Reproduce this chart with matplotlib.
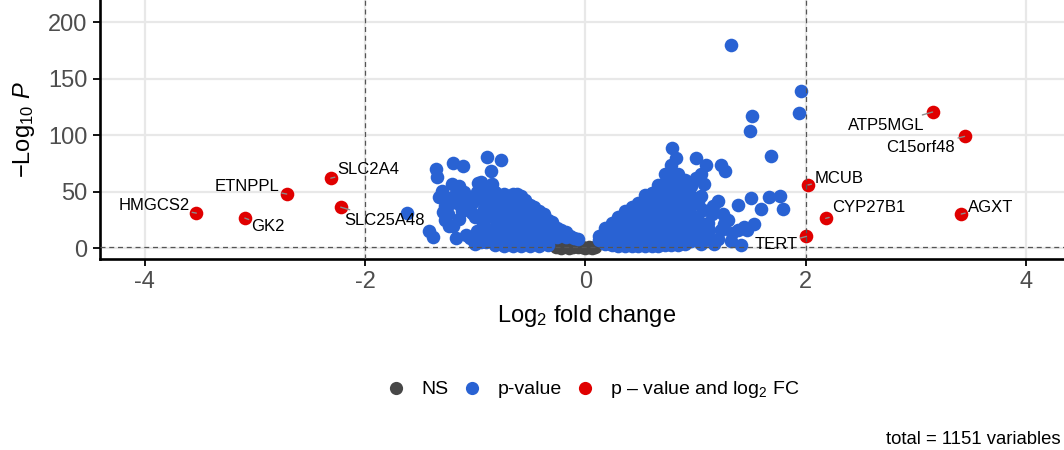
import matplotlib
matplotlib.use('Agg')
import matplotlib.pyplot as plt
from matplotlib.lines import Line2D

plt.rcParams['font.family'] = ['Liberation Sans', 'DejaVu Sans']
plt.rcParams['mathtext.fontset'] = 'custom'
plt.rcParams['mathtext.rm'] = 'Liberation Sans'
plt.rcParams['mathtext.it'] = 'Liberation Sans:italic'
plt.rcParams['mathtext.bf'] = 'Liberation Sans:bold'

# ---------------- data ----------------
# not significant (grey)
ns_lfc = [-0.27, -0.22, -0.15, -0.11, -0.07, -0.03, 0.00, 0.03, 0.06, 0.09]
ns_logp = [0.8, 0.5, 0.3, 0.9, 0.6, 0.7, 0.4, 1.0, 0.5, 0.9]

# p-value only (blue)
blue_lfc = [
    # left scattered
    -1.62, -1.42, -1.38, -1.36, -1.35, -1.30, -1.29, -1.27, -1.27, -1.21, -1.20,
    -1.17, -1.15, -1.14, -1.11, -1.05, -1.02, -1.03, -0.97, -0.95, -0.93, -0.89,
    -0.86, -0.85, -0.86, -0.77, -0.77, -1.08, -1.20, -1.10, -0.98, -0.92, -1.25,
    -1.25, -1.22, -1.18, -1.12, -1.06, -1.00, -0.96, -0.90, -0.93, -1.15, -1.33,
    -1.24, -0.98, -0.92, -1.08, -1.00, -0.95,
    # left dense
    -0.90, -0.90, -0.90, -0.90,
    -0.82, -0.82, -0.82, -0.82, -0.82, -0.82, -0.82,
    -0.74, -0.74, -0.74, -0.74, -0.74, -0.74, -0.74,
    -0.66, -0.66, -0.66, -0.66, -0.66, -0.66, -0.66,
    -0.58, -0.58, -0.58, -0.58, -0.58, -0.58, -0.58,
    -0.50, -0.50, -0.50, -0.50, -0.50, -0.50,
    -0.42, -0.42, -0.42, -0.42, -0.42, -0.42,
    -0.34, -0.34, -0.34, -0.34, -0.34,
    -0.26, -0.26, -0.26,
    -0.18, -0.18,
    -0.10,
    -0.62, -0.55, -0.47, -0.38, -0.30, -0.22, -0.14, -0.07,
    # right dense
    0.12, 0.12,
    0.18, 0.18, 0.18, 0.18,
    0.24, 0.24, 0.24, 0.24,
    0.30, 0.30, 0.30, 0.30, 0.30,
    0.36, 0.36, 0.36, 0.36, 0.36, 0.36,
    0.42, 0.42, 0.42, 0.42, 0.42, 0.42,
    0.48, 0.48, 0.48, 0.48, 0.48, 0.48,
    0.54, 0.54, 0.54, 0.54, 0.54, 0.54, 0.54,
    0.60, 0.60, 0.60, 0.60, 0.60, 0.60, 0.60,
    0.66, 0.66, 0.66, 0.66, 0.66, 0.66, 0.66, 0.66,
    0.72, 0.72, 0.72, 0.72, 0.72, 0.72, 0.72, 0.72, 0.72,
    0.78, 0.78, 0.78, 0.78, 0.78, 0.78, 0.78, 0.78, 0.78, 0.78,
    0.84, 0.84, 0.84, 0.84, 0.84, 0.84, 0.84, 0.84, 0.84,
    0.90, 0.90, 0.90, 0.90, 0.90, 0.90, 0.90, 0.90,
    0.96, 0.96, 0.96, 0.96, 0.96, 0.96, 0.96,
    1.02, 1.02, 1.02, 1.02,
    # right scattered
    0.79, 0.82, 1.00, 1.09, 1.23, 1.27, 1.05, 1.08, 1.68, 1.49, 1.51, 1.325,
    1.96, 1.94, 1.20, 1.38, 1.50, 1.59, 1.67, 1.77, 1.79, 1.53, 1.41, 1.17,
    1.29, 1.11, 1.38, 1.47, 1.23, 1.33, 1.44, 1.05, 1.10, 1.15, 1.07, 1.00,
    1.05, 1.12, 1.20, 1.26, 1.32, 1.16, 1.25,
]
blue_logp = [
    31, 15, 10, 70, 63, 51, 32, 37, 25, 57, 75,
    9, 26, 38, 73, 9, 41, 31, 58, 59, 22, 81,
    68, 57, 43, 78, 16, 45, 20, 50, 50, 35, 44,
    30, 40, 47, 33, 36, 28, 44, 38, 52, 55, 45,
    20, 15, 20, 12, 4, 5,
    5, 12, 28, 47,
    3, 10, 18, 26, 34, 42, 50,
    2, 9, 17, 25, 33, 41, 48,
    2, 8, 16, 24, 32, 40, 48,
    2, 8, 15, 23, 31, 39, 46,
    2, 7, 14, 21, 29, 38,
    2, 7, 13, 20, 27, 33,
    3, 7, 12, 19, 25,
    10, 14, 18,
    10, 14,
    9,
    48, 43, 36, 30, 23, 16, 11, 8,
    7, 11,
    4, 7, 13, 18,
    3, 8, 15, 22,
    2, 8, 15, 22, 28,
    2, 8, 15, 22, 29, 33,
    2, 9, 16, 24, 32, 36,
    2, 9, 17, 25, 33, 40,
    2, 9, 17, 25, 33, 41, 47,
    2, 9, 17, 25, 33, 41, 49,
    2, 9, 17, 25, 33, 41, 49, 56,
    3, 10, 18, 26, 34, 42, 50, 58, 66,
    3, 10, 18, 26, 34, 42, 50, 58, 66, 74,
    3, 11, 19, 27, 35, 43, 51, 59, 66,
    4, 12, 20, 28, 36, 44, 52, 60,
    6, 14, 22, 30, 38, 46, 55,
    9, 17, 25, 40,
    89, 80, 80, 74, 74, 68, 66, 57, 82, 104, 117, 180,
    139, 120, 42, 38, 44, 35, 45, 46, 35, 21, 3, 4,
    25, 22, 16, 16, 16, 13, 19, 46, 10, 30, 34, 62,
    4, 16, 8, 21, 6, 37, 30,
]

# p-value and log2 FC (red), with labels
red_genes = ['HMGCS2', 'GK2', 'ETNPPL', 'SLC2A4', 'SLC25A48',
             'ATP5MGL', 'C15orf48', 'MCUB', 'CYP27B1', 'AGXT', 'TERT']
red_lfc = [-3.53, -3.09, -2.71, -2.31, -2.22, 3.15, 3.44, 2.02, 2.18, 3.41, 2.006]
red_logp = [31, 26.6, 47.9, 62, 36.3, 120.6, 99, 56, 26.4, 30.2, 10.4]

x_ticks = [-4, -2, 0, 2, 4]
y_ticks = [0, 50, 100, 150, 200]
fc_cutoff = 2
p_cutoff_line = 1.3
total_vars = 1151

# label placement (offset in points, alignment)
label_offsets = {
    'HMGCS2': (-5, 5.8, 'right'), 'GK2': (4.8, -6.2, 'left'),
    'ETNPPL': (-5.5, 5.6, 'right'), 'SLC2A4': (4.9, 6.3, 'left'),
    'SLC25A48': (2.7, -9.3, 'left'), 'ATP5MGL': (-5.8, -9.5, 'right'),
    'C15orf48': (-6.7, -7.7, 'right'), 'MCUB': (4.4, 4.6, 'left'),
    'CYP27B1': (4.5, 8, 'left'), 'AGXT': (4.8, 4.9, 'left'),
    'TERT': (-6.5, -6, 'right'),
}

# ---------------- style ----------------
C_NS = '#474747'
C_BLUE = '#2962D3'
C_RED = '#E00000'
TICK_GRAY = '#4D4D4D'
S = 96

W, H = 1064, 450
fig = plt.figure(figsize=(W / 100, H / 100), dpi=100)
ax = fig.add_axes([100 / W, (H - 258.5) / H, (1074 - 100) / W, 258.5 / H])
ax.set_xlim(-4.404, 4.433)
ax.set_ylim(-9.22, 219.9)

ax.set_xticks(x_ticks)
ax.set_xticklabels([str(v) for v in x_ticks])
ax.set_yticks(y_ticks)
ax.grid(True, color='#E8E8E8', linewidth=1.6, zorder=0)
ax.set_axisbelow(True)

for sp in ['top', 'right']:
    ax.spines[sp].set_visible(False)
for sp in ['left', 'bottom']:
    ax.spines[sp].set_linewidth(1.9)
    ax.spines[sp].set_color('black')
ax.tick_params(axis='both', colors='black', labelcolor=TICK_GRAY,
               labelsize=17, length=5, width=1.3, pad=4)

ax.scatter(ns_lfc, ns_logp, s=S, color=C_NS, linewidths=0, zorder=2)
ax.scatter(blue_lfc, blue_logp, s=S, color=C_BLUE, linewidths=0, zorder=2)
ax.scatter(red_lfc, red_logp, s=S, color=C_RED, linewidths=0, zorder=2.5)

dash = dict(color='#555555', linewidth=0.9, linestyle=(0, (4, 3)), zorder=3)
ax.axvline(-fc_cutoff, **dash)
ax.axvline(fc_cutoff, **dash)
ax.axhline(p_cutoff_line, **dash)

for g, x, y in zip(red_genes, red_lfc, red_logp):
    dx, dy, ha = label_offsets[g]
    ax.annotate(g, xy=(x, y), xytext=(dx, dy), textcoords='offset points',
                ha=ha, va='center', fontsize=12, color='black', zorder=4,
                arrowprops=dict(arrowstyle='-', color='#8C8C8C', lw=1.0,
                                shrinkA=0, shrinkB=0))

ax.set_xlabel('Log$_2$ fold change', fontsize=17, color='black', labelpad=7)
ax.set_ylabel(r'$-$Log$_{10}$ $\it{P}$', fontsize=17, color='black', labelpad=8)

handles = [Line2D([], [], marker='o', linestyle='', markersize=9.5, color=C_NS, markeredgewidth=0),
           Line2D([], [], marker='o', linestyle='', markersize=9.5, color=C_BLUE, markeredgewidth=0),
           Line2D([], [], marker='o', linestyle='', markersize=9.5, color=C_RED, markeredgewidth=0)]
labels = ['NS', 'p-value', 'p – value and log$_2$ FC']
fig.legend(handles, labels, loc='center', bbox_to_anchor=(593 / W, 1 - 390 / H),
           ncol=3, frameon=False, fontsize=14, handlelength=1.0,
           handletextpad=0.8, columnspacing=0.7)

fig.text(1061 / W, 1 - 440 / H, f'total = {total_vars} variables', ha='right',
         va='center', fontsize=13.3, color='black')

fig.savefig('out.png', dpi=100)
